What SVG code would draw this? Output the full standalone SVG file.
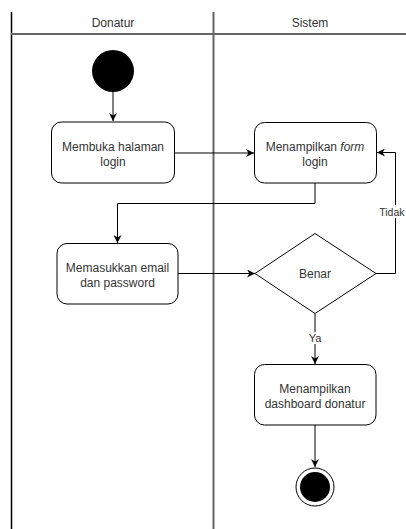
<svg xmlns="http://www.w3.org/2000/svg" width="406" height="529" viewBox="0 0 406 529">
  <style>
    text { font-family: "Liberation Sans", Arial, sans-serif; font-size: 12px; fill: #333; text-anchor: middle; }
    .box { fill: #fff; stroke: #000; stroke-width: 1; }
    .edge { fill: none; stroke: #000; stroke-width: 1; }
    .lane { stroke: #666; stroke-width: 2; fill: none; }
  </style>
  <defs>
    <marker id="arrow" viewBox="0 0 10 10" refX="10" refY="5" markerWidth="8" markerHeight="8" markerUnits="userSpaceOnUse" orient="auto">
      <path d="M0,0 L10,5 L0,10 L3,5 Z" fill="#000"/>
    </marker>
  </defs>
  <rect width="406" height="529" fill="#fff"/>

  <!-- swimlanes -->
  <g id="lanes">
    <line x1="11.5" y1="12" x2="11.5" y2="529" stroke="#000" stroke-width="1.5"/>
    <line class="lane" x1="213.5" y1="12" x2="213.5" y2="529"/>
    <line class="lane" x1="11" y1="34" x2="406" y2="34"/>
    <text x="113" y="27" fill="#222">Donatur</text>
    <text x="310" y="27" fill="#222">Sistem</text>
  </g>

  <!-- connectors -->
  <g id="connectors">
    <path class="edge" d="M113,92 V121" marker-end="url(#arrow)"/>
    <path class="edge" d="M175,153 H254" marker-end="url(#arrow)"/>
    <path class="edge" d="M315,183 V203.5 H117.5 V243" marker-end="url(#arrow)"/>
    <path class="edge" d="M178,273.5 H255" marker-end="url(#arrow)"/>
    <path class="edge" d="M376,273.5 H395.5 V152.5 H377" marker-end="url(#arrow)"/>
    <path class="edge" d="M315,314 V364" marker-end="url(#arrow)"/>
    <path class="edge" d="M315,425 V467" marker-end="url(#arrow)"/>
    <rect x="380" y="205" width="26" height="13" fill="#fff"/>
    <text x="404.5" y="216" style="font-size:10.5px;text-anchor:end">Tidak</text>
    <rect x="307" y="332" width="16" height="12" fill="#fff"/>
    <text x="315" y="342" style="font-size:11px">Ya</text>
  </g>

  <g id="start">
    <circle cx="113" cy="71" r="21" fill="#000"/>
  </g>

  <g id="membuka-login">
    <rect class="box" x="51.5" y="122" width="123" height="61" rx="10"/>
    <text x="113" y="151">Membuka halaman</text>
    <text x="113" y="166">login</text>
  </g>

  <g id="tampil-form">
    <rect class="box" x="254.5" y="122.5" width="122" height="60.5" rx="10"/>
    <text x="315" y="151">Menampilkan <tspan font-style="italic">form</tspan></text>
    <text x="315" y="166">login</text>
  </g>

  <g id="masukkan-email">
    <rect class="box" x="57" y="243.5" width="121" height="60.5" rx="10"/>
    <text x="117.5" y="272">Memasukkan email</text>
    <text x="117.5" y="287">dan password</text>
  </g>

  <g id="benar">
    <polygon class="box" points="315,233.5 376,273.5 315,313.5 255,273.5"/>
    <text x="315" y="278">Benar</text>
  </g>

  <g id="dashboard">
    <rect class="box" x="254.5" y="364.5" width="121.5" height="60.5" rx="10"/>
    <text x="315" y="393">Menampilkan</text>
    <text x="315" y="408">dashboard donatur</text>
  </g>

  <g id="end">
    <circle cx="315" cy="487" r="19" fill="#fff" stroke="#000" stroke-width="1"/>
    <circle cx="315" cy="487" r="15" fill="#000"/>
  </g>
</svg>
